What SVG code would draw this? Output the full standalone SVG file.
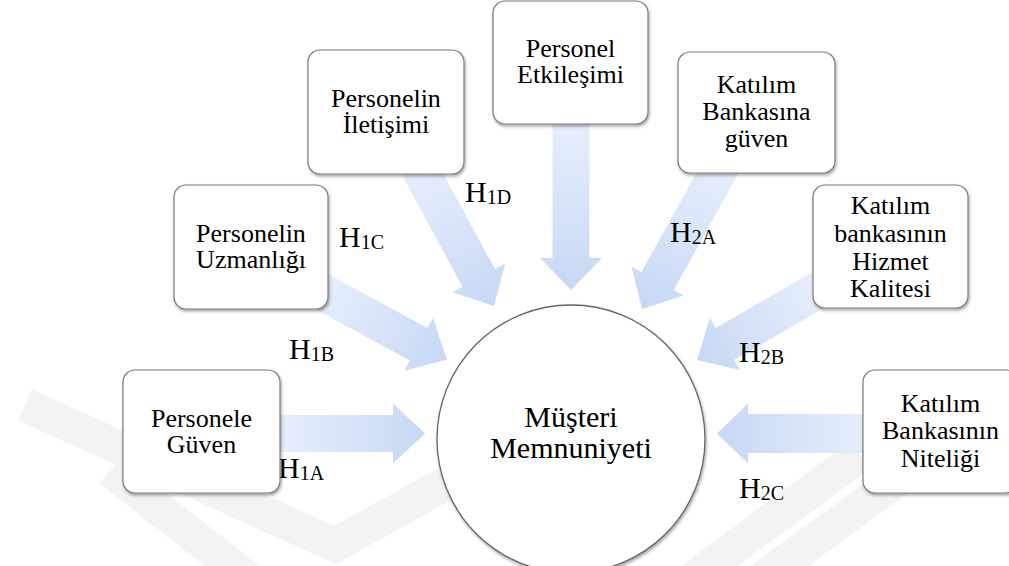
<svg xmlns="http://www.w3.org/2000/svg" width="1009" height="566" viewBox="0 0 1009 566">
  <defs>
    <linearGradient id="ag" x1="0" y1="0" x2="1" y2="0">
      <stop offset="0" stop-color="#e8effb"/>
      <stop offset="1" stop-color="#c7d8f5"/>
    </linearGradient>
    <filter id="sh" x="-10%" y="-10%" width="130%" height="130%">
      <feDropShadow dx="1" dy="2" stdDeviation="1.5" flood-color="#000" flood-opacity="0.35"/>
    </filter>
  </defs>
  <style>
    .box { fill: #ffffff; stroke: #7a7a7a; stroke-width: 1.2; filter: url(#sh); }
    .circ { fill: #ffffff; stroke: #666666; stroke-width: 1.3; filter: url(#sh); }
    text { font-family: 'Liberation Serif', 'DejaVu Serif', 'Times New Roman', serif; fill: #000; }
    .t { font-size: 26px; text-anchor: middle; }
    .tc { font-size: 30px; text-anchor: middle; }
    .h { font-size: 30px; }
    .sub { font-size: 20px; }
    .a { fill: url(#ag); }
    .wm { fill: none; stroke: #f3f3f3; stroke-width: 34; }
  </style>

  <rect width="1009" height="566" fill="#ffffff"/>

  <g id="watermark">
    <path class="wm" d="M 25 405 L 335 545 L 470 470"/>
    <path class="wm" d="M 110 470 L 250 580"/>
    <path class="wm" d="M 690 580 L 860 455"/>
    <path class="wm" d="M 760 580 L 900 478"/>
  </g>

  <g id="connectors">
    <path class="a" transform="translate(270,433.5)" d="M0,-18.5 L123,-18.5 L123,-30 L155,0 L123,30 L123,18.5 L0,18.5 Z"/>
    <path class="a" transform="translate(315,288) rotate(28.5)" d="M0,-18.5 L118,-18.5 L118,-30 L150,0 L118,30 L118,18.5 L0,18.5 Z"/>
    <path class="a" transform="translate(415.3,161) rotate(61.5)" d="M0,-18.5 L133,-18.5 L133,-30 L165,0 L133,30 L133,18.5 L0,18.5 Z"/>
    <path class="a" transform="translate(571,115) rotate(90)" d="M0,-18.5 L143,-18.5 L143,-31 L175,0 L143,31 L143,18.5 L0,18.5 Z"/>
    <path class="a" transform="translate(726.9,156) rotate(119)" d="M0,-18.5 L143,-18.5 L143,-30 L175,0 L143,30 L143,18.5 L0,18.5 Z"/>
    <path class="a" transform="translate(827,285) rotate(150)" d="M0,-18.5 L118,-18.5 L118,-30 L150,0 L118,30 L118,18.5 L0,18.5 Z"/>
    <path class="a" transform="translate(877,433.5) rotate(180)" d="M0,-19.5 L129,-19.5 L129,-30 L160,0 L129,30 L129,19.5 L0,19.5 Z"/>
  </g>

  <g id="labels">
    <text class="h" x="278" y="478">H<tspan class="sub" dy="2">1A</tspan></text>
    <text class="h" x="289" y="359">H<tspan class="sub" dy="2">1B</tspan></text>
    <text class="h" x="339" y="247">H<tspan class="sub" dy="2">1C</tspan></text>
    <text class="h" x="465" y="202">H<tspan class="sub" dy="2">1D</tspan></text>
    <text class="h" x="670" y="242">H<tspan class="sub" dy="2">2A</tspan></text>
    <text class="h" x="739" y="362">H<tspan class="sub" dy="2">2B</tspan></text>
    <text class="h" x="739" y="498">H<tspan class="sub" dy="2">2C</tspan></text>
  </g>

  <g id="node-guven">
    <rect class="box" x="123" y="370" width="157" height="123" rx="12"/>
    <text class="t" x="201.5" y="427">Personele</text>
    <text class="t" x="201.5" y="453">Güven</text>
  </g>

  <g id="node-uzmanlik">
    <rect class="box" x="174" y="185" width="154" height="124" rx="12"/>
    <text class="t" x="251" y="242">Personelin</text>
    <text class="t" x="251" y="268">Uzmanlığı</text>
  </g>

  <g id="node-iletisim">
    <rect class="box" x="308" y="50" width="156" height="124" rx="12"/>
    <text class="t" x="386" y="107">Personelin</text>
    <text class="t" x="386" y="133">İletişimi</text>
  </g>

  <g id="node-etkilesim">
    <rect class="box" x="493" y="1" width="155" height="123" rx="12"/>
    <text class="t" x="570.5" y="57">Personel</text>
    <text class="t" x="570.5" y="83">Etkileşimi</text>
  </g>

  <g id="node-guven-banka">
    <rect class="box" x="678" y="52" width="157" height="121" rx="12"/>
    <text class="t" x="756.5" y="93">Katılım</text>
    <text class="t" x="756.5" y="120">Bankasına</text>
    <text class="t" x="756.5" y="147">güven</text>
  </g>

  <g id="node-hizmet">
    <rect class="box" x="813" y="185" width="155" height="123" rx="12"/>
    <text class="t" x="890.5" y="214">Katılım</text>
    <text class="t" x="890.5" y="242">bankasının</text>
    <text class="t" x="890.5" y="270">Hizmet</text>
    <text class="t" x="890.5" y="297">Kalitesi</text>
  </g>

  <g id="node-nitelik">
    <rect class="box" x="863" y="370" width="155" height="123" rx="12"/>
    <text class="t" x="940.5" y="412">Katılım</text>
    <text class="t" x="940.5" y="439">Bankasının</text>
    <text class="t" x="940.5" y="467">Niteliği</text>
  </g>

  <g id="node-memnuniyet">
    <circle class="circ" cx="571" cy="439" r="134"/>
    <text class="tc" x="571" y="427">Müşteri</text>
    <text class="tc" x="571" y="458">Memnuniyeti</text>
  </g>
</svg>
